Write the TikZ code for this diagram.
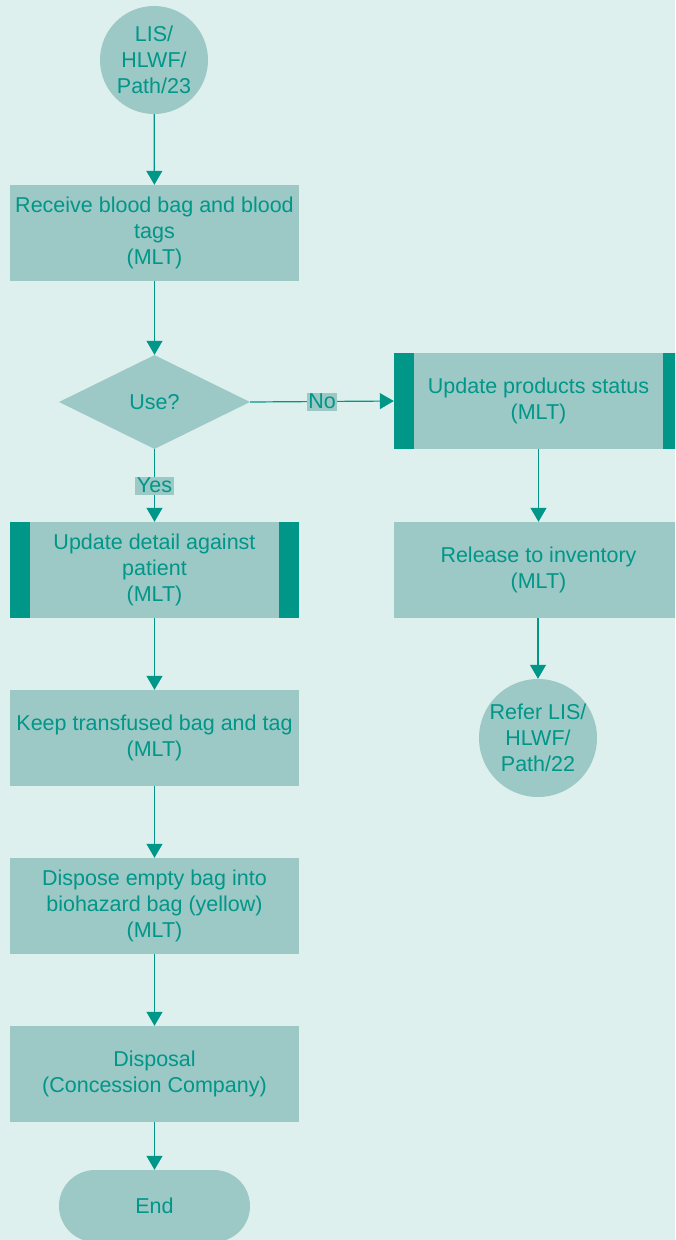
\documentclass[tikz,border=0pt]{standalone}
\usepackage{fontspec}
\setmainfont{Liberation Sans}
\usetikzlibrary{shapes.geometric,shapes.misc,arrows.meta}
\definecolor{bg}{HTML}{DDF0ED}
\definecolor{nodefill}{HTML}{9CC8C6}
\definecolor{teal}{HTML}{009688}
\tikzset{
  base/.style={fill=nodefill,draw=none,text=teal,align=center,inner sep=0pt,
    font=\fontsize{21.5}{26}\selectfont},
  procbox/.style={base,rectangle,minimum width=289pt,minimum height=96pt,
    execute at begin node={\rule[-4.6pt]{0pt}{20.2pt}},
    execute at end node={\rule[-4.6pt]{0pt}{0pt}}},
  subproc/.style={procbox,path picture={
    \fill[teal] (path picture bounding box.south west) rectangle ([xshift=20pt]path picture bounding box.north west);
    \fill[teal] ([xshift=-20pt]path picture bounding box.south east) rectangle (path picture bounding box.north east);}},
  termcircle/.style={base,circle,minimum size=108pt},
  decision/.style={base,diamond,minimum width=191pt,minimum height=94pt,aspect=2.03},
  stadium/.style={base,rounded rectangle,minimum width=191pt,minimum height=72pt},
  lbl/.style={fill=nodefill,text=teal,inner sep=1.5pt,font=\fontsize{21.5}{26}\selectfont},
  conn/.style={draw=teal,line width=1.2pt,-{Triangle[length=14pt,width=16pt]}}
}
\begin{document}
\begin{tikzpicture}[x=1pt,y=-1pt]
\fill[bg] (0,0) rectangle (675,1240);
\useasboundingbox (0,0) rectangle (675,1240);
\clip (0,0) rectangle (675,1240);
\node[termcircle] (start) at (154,60) {LIS/\\HLWF/\\Path/23};
\node[procbox] (recv) at (154.5,233) {Receive blood bag and blood\\tags\\(MLT)};
\node[decision] (use) at (154.5,402) {Use?};
\node[subproc] (upd) at (538.5,401) {Update products status\\(MLT)};
\node[subproc] (det) at (154.5,570) {Update detail against\\patient\\(MLT)};
\node[procbox] (rel) at (538.5,570) {Release to inventory\\(MLT)};
\node[termcircle] (ref) at (538,738) {Refer LIS/\\HLWF/\\Path/22};
\node[procbox] (keep) at (154.5,738) {Keep transfused bag and tag\\(MLT)};
\node[procbox] (disp) at (154.5,906) {Dispose empty bag into\\biohazard bag (yellow)\\(MLT)};
\node[procbox] (dispo) at (154.5,1074) {Disposal\\(Concession Company)};
\node[stadium] (end) at (154.5,1206) {End};
\draw[conn] (start) -- (recv);
\draw[conn] (recv) -- (use);
\draw[conn] (use.east) -- node[lbl] {No} (upd.west);
\draw[conn] (use.south) -- node[lbl] {Yes} (det.north);
\draw[conn] (upd) -- (rel);
\draw[conn] (rel.south -| ref.north) -- (ref.north);
\draw[conn] (det) -- (keep);
\draw[conn] (keep) -- (disp);
\draw[conn] (disp) -- (dispo);
\draw[conn] (dispo) -- (end);
\end{tikzpicture}
\end{document}
